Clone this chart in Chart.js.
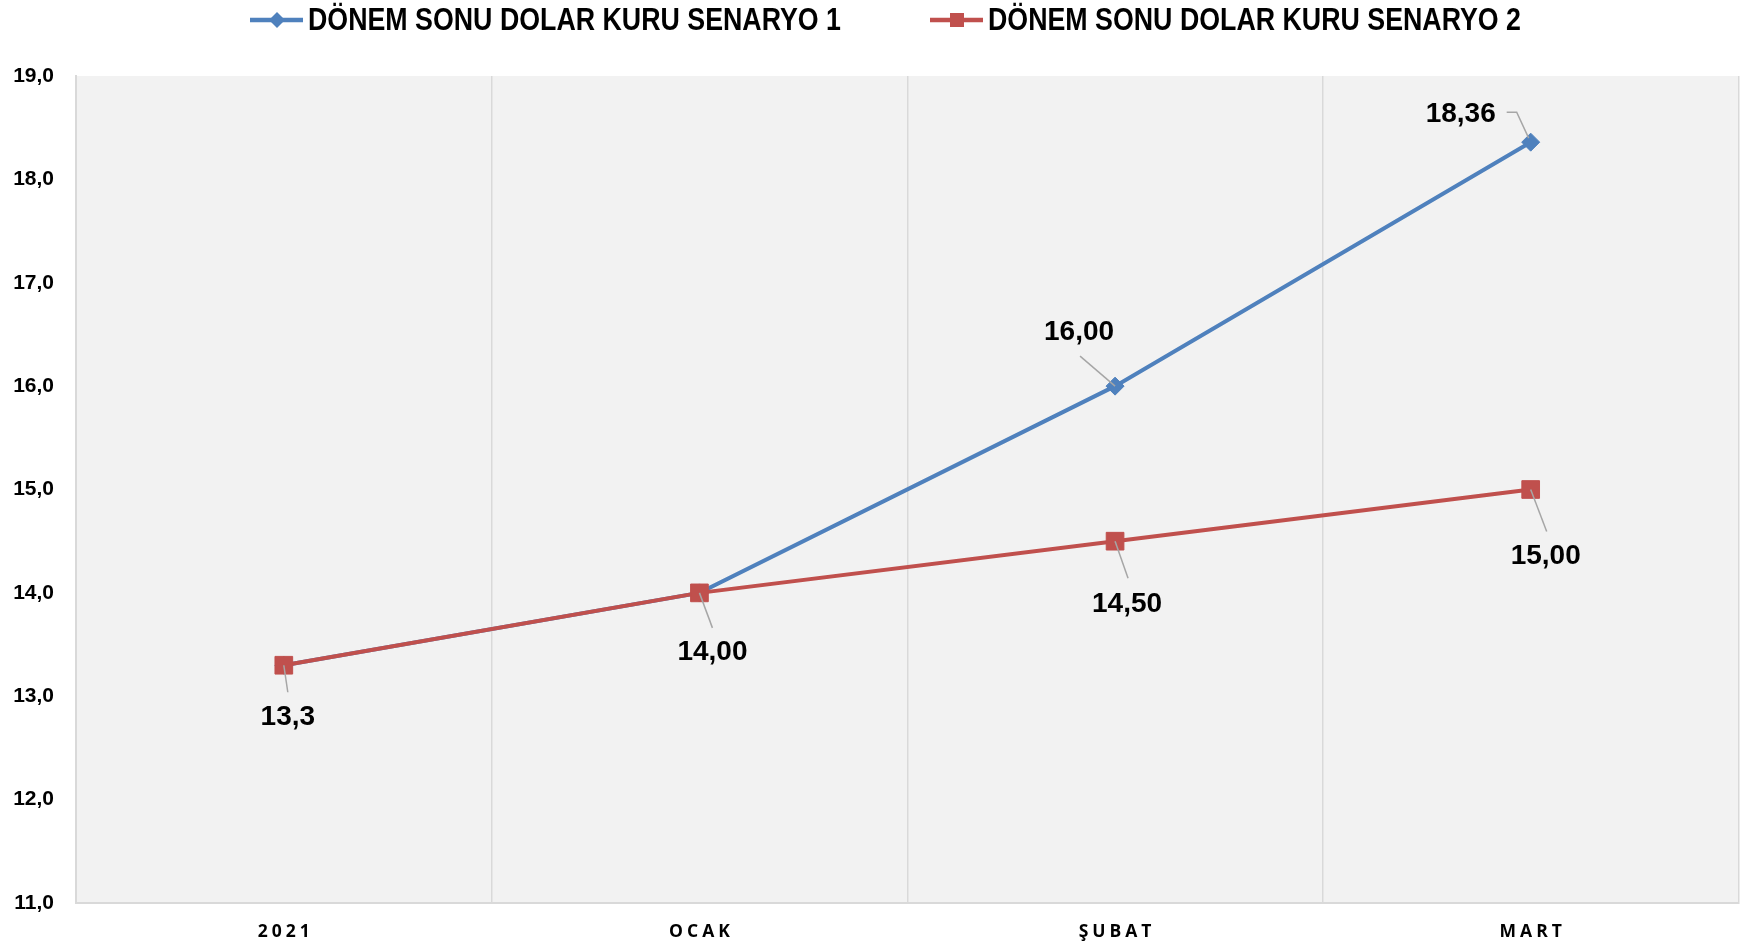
<!DOCTYPE html>
<html>
<head>
<meta charset="utf-8">
<script src="https://cdn.jsdelivr.net/npm/chart.js@4.4.1/dist/chart.umd.min.js"></script>
<style>
  html, body { margin: 0; padding: 0; background: #fff; }
  #wrap { width: 1752px; height: 944px; }
</style>
</head>
<body>
<div id="wrap"><canvas id="kurChart"></canvas></div>
<script>
// Data
const categories = ['2021', 'OCAK', 'ŞUBAT', 'MART'];
const senaryo1 = [13.3, 14.0, 16.0, 18.36];
const senaryo2 = [13.3, 14.0, 14.5, 15.0];
const labels1 = [null, null, '16,00', '18,36'];
const labels2 = ['13,3', '14,00', '14,50', '15,00'];
const seriesNames = ['DÖNEM SONU DOLAR KURU SENARYO 1', 'DÖNEM SONU DOLAR KURU SENARYO 2'];

const BLUE = '#4F81BD';
const RED = '#C0504D';
const LABEL_FONT = 'bold 28px "Liberation Sans", Arial, sans-serif';
const LEGEND_FONT = 'bold 31px "Liberation Sans", Arial, sans-serif';

// label placement relative to the point: [dx, dy] of label centre, leader path (relative)
const labelPlacement = [
    [null, null,
     { dx: -36, dy: -54, leader: [[-35, -30], [0, 0]] },
     { dx: -70, dy: -28, leader: [[-24, -30], [-14, -30], [-2, -4]] }],
    [{ dx: 4, dy: 52, leader: [[4, 27], [0, 0]] },
     { dx: 13, dy: 59, leader: [[13, 35], [0, 0]] },
     { dx: 12, dy: 63, leader: [[13, 37], [0, 0]] },
     { dx: 15, dy: 67, leader: [[16, 42], [0, 0]] }]
];

const plotBackground = {
    id: 'plotBackground',
    beforeDraw(chart) {
        const { ctx, chartArea: a } = chart;
        ctx.save();
        ctx.fillStyle = '#F2F2F2';
        ctx.fillRect(a.left, a.top, a.right - a.left, a.bottom - a.top);
        ctx.restore();
    }
};

const dataLabels = {
    id: 'dataLabels',
    afterDatasetsDraw(chart) {
        const ctx = chart.ctx;
        const texts = [labels1, labels2];
        ctx.save();
        chart.data.datasets.forEach((ds, di) => {
            const meta = chart.getDatasetMeta(di);
            meta.data.forEach((pt, i) => {
                const txt = texts[di][i];
                const pl = labelPlacement[di][i];
                if (!txt || !pl) return;
                ctx.strokeStyle = '#A6A6A6';
                ctx.lineWidth = 1.5;
                ctx.beginPath();
                pl.leader.forEach(([lx, ly], k) => {
                    if (k === 0) ctx.moveTo(pt.x + lx, pt.y + ly);
                    else ctx.lineTo(pt.x + lx, pt.y + ly);
                });
                ctx.stroke();
                ctx.fillStyle = '#000';
                ctx.font = LABEL_FONT;
                ctx.textAlign = 'center';
                ctx.textBaseline = 'middle';
                ctx.fillText(txt, pt.x + pl.dx, pt.y + pl.dy);
            });
        });
        ctx.restore();
    }
};

const customLegend = {
    id: 'customLegend',
    afterDraw(chart) {
        const ctx = chart.ctx;
        const starts = [250, 930];
        const y = 20;
        ctx.save();
        chart.data.datasets.forEach((ds, di) => {
            const x0 = starts[di];
            ctx.strokeStyle = ds.borderColor;
            ctx.lineWidth = 4.5;
            ctx.beginPath();
            ctx.moveTo(x0, y);
            ctx.lineTo(x0 + 53, y);
            ctx.stroke();
            ctx.fillStyle = ds.borderColor;
            ctx.beginPath();
            if (ds.pointStyle === 'rectRot') {
                const r = 8;
                ctx.moveTo(x0 + 27 - r, y);
                ctx.lineTo(x0 + 27, y - r);
                ctx.lineTo(x0 + 27 + r, y);
                ctx.lineTo(x0 + 27, y + r);
                ctx.closePath();
            } else {
                ctx.rect(x0 + 27 - 7, y - 7, 14, 14);
            }
            ctx.fill();
            ctx.fillStyle = '#000';
            ctx.font = LEGEND_FONT;
            ctx.textAlign = 'left';
            ctx.textBaseline = 'middle';
            ctx.fillText(ds.label, x0 + 58, y + 1, 533);
        });
        ctx.restore();
    }
};

const spacedXLabels = {
    id: 'spacedXLabels',
    afterDraw(chart) {
        const ctx = chart.ctx;
        const xs = chart.scales.x;
        const spacing = 4;
        ctx.save();
        ctx.font = 'bold 17.5px "Open Sans", "Liberation Sans", sans-serif';
        ctx.fillStyle = '#000';
        ctx.textAlign = 'left';
        ctx.textBaseline = 'middle';
        ctx.letterSpacing = spacing + 'px';
        categories.forEach((c, i) => {
            const w = ctx.measureText(c).width - spacing;
            ctx.fillText(c, xs.getPixelForTick(i) - w / 2, chart.chartArea.bottom + 29);
        });
        ctx.restore();
    }
};

const ctx = document.getElementById('kurChart').getContext('2d');

const kurChart = new Chart(ctx, {
    type: 'line',
    data: {
        labels: categories,
        datasets: [
            {
                label: seriesNames[0],
                data: senaryo1,
                borderColor: BLUE,
                backgroundColor: BLUE,
                borderWidth: 4,
                pointStyle: 'rectRot',
                pointRadius: 9,
                pointBorderWidth: 1,
                tension: 0,
                order: 2
            },
            {
                label: seriesNames[1],
                data: senaryo2,
                borderColor: RED,
                backgroundColor: RED,
                borderWidth: 4,
                pointStyle: 'rect',
                pointRadius: 12.5,
                pointBorderWidth: 1,
                tension: 0,
                order: 1
            }
        ]
    },
    options: {
        responsive: true,
        maintainAspectRatio: false,
        animation: false,
        layout: { padding: { top: 76, right: 12, left: 0, bottom: 0 } },
        plugins: {
            legend: { display: false },
            tooltip: { enabled: false }
        },
        scales: {
            x: {
                offset: true,
                grid: { color: '#D9D9D9', lineWidth: 1.5, offset: true, drawTicks: false },
                border: { color: '#D9D9D9', width: 2 },
                ticks: { color: 'transparent', font: { size: 17 } },
                afterFit(scale) { scale.height = 41; }
            },
            y: {
                min: 11,
                max: 19,
                grid: { display: false, drawTicks: false },
                border: { color: '#D9D9D9', width: 2 },
                ticks: {
                    stepSize: 1,
                    padding: 22,
                    color: '#000',
                    font: { family: '"Liberation Sans", Arial, sans-serif', size: 21, weight: 'bold' },
                    callback: v => v.toFixed(1).replace('.', ',')
                },
                afterFit(scale) { scale.width = 76; }
            }
        }
    },
    plugins: [plotBackground, dataLabels, customLegend, spacedXLabels]
});
</script>
</body>
</html>
